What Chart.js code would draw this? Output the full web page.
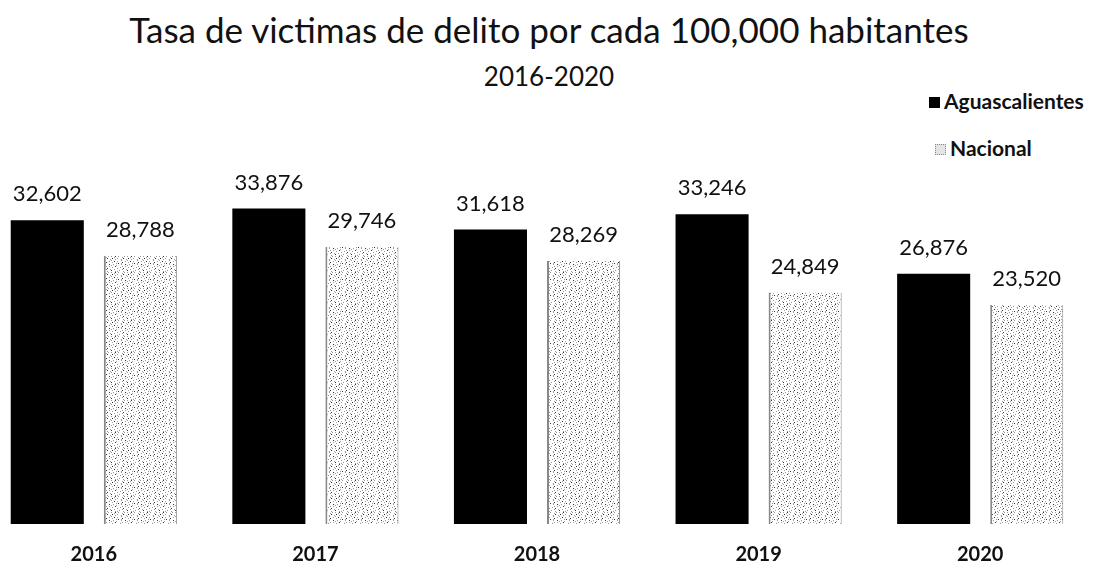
<!DOCTYPE html>
<html>
<head>
<meta charset="utf-8">
<script src="https://cdn.jsdelivr.net/npm/chart.js@4.4.0/dist/chart.umd.min.js"></script>
<style>
  html, body { margin:0; padding:0; background:#fff; width:1098px; height:565px; overflow:hidden; position:relative; font-family: Lato, "Open Sans", sans-serif; }
  #wrap { position:absolute; left:-17px; top:0; width:1122px; height:565px; }
  #title { position:absolute; left:0; width:1098px; top:9px; text-align:center; font-size:35px; color:#111; line-height:40px; }
  #sub { position:absolute; left:0; width:1098px; top:61px; text-align:center; font-size:26px; color:#111; line-height:30px; }
  .leg { position:absolute; font-weight:bold; font-size:21px; color:#111; line-height:24px; }
  .box { display:inline-block; width:11px; height:11px; margin-right:4px; vertical-align:1px; }
</style>
</head>
<body>
<div id="title">Tasa de victimas de delito por cada 100,000 habitantes</div>
<div id="sub">2016-2020</div>
<div class="leg" style="left:929px; top:89px;"><span class="box" style="background:#000"></span>Aguascalientes</div>
<div class="leg" style="left:935px; top:136px;"><span class="box" style="width:9px;height:9px;border:1px dotted #888;background:#e4e4e4"></span>Nacional</div>
<div id="wrap"><canvas id="c"></canvas></div>
<script>
const categories = ["2016", "2017", "2018", "2019", "2020"];
const aguascalientes = [32602, 33876, 31618, 33246, 26876];
const nacional = [28788, 29746, 28269, 24849, 23520];

const ctx = document.getElementById('c').getContext('2d');
const pattern = ctx.createPattern((function(){
  const rows = [
    "g...k..g.....g..",
    "...g.......g....",
    ".k....g.....k...",
    "....g.....g....g",
    "g.........g.....",
    "...k..g.......g.",
    ".g.........k....",
    ".....g.k..g.....",
    "..g.......g...k.",
    "g....g..........",
    "....k......g..g.",
    ".g.......g......",
    "......g.....k...",
    "...g.......g...g",
    "k.......g.......",
    "....g.g.....g..."
  ];
  const pc = document.createElement('canvas');
  pc.width = 16; pc.height = 16;
  const p = pc.getContext('2d');
  p.fillStyle = '#fff'; p.fillRect(0,0,16,16);
  rows.forEach((r, y) => {
    for (let x = 0; x < 16; x++) {
      if (r[x] === 'g') { p.fillStyle = '#999'; p.fillRect(x,y,1,1); }
      if (r[x] === 'k') { p.fillStyle = '#333'; p.fillRect(x,y,1,1); }
    }
  });
  return pc;
})(), 'repeat');

const valueLabels = {
  id: 'valueLabels',
  afterDatasetsDraw(chart) {
    const c = chart.ctx;
    c.save();
    c.font = '22px Lato, "Open Sans", sans-serif';
    c.fillStyle = '#111';
    c.textAlign = 'center';
    c.textBaseline = 'bottom';
    chart.data.datasets.forEach((ds, di) => {
      const meta = chart.getDatasetMeta(di);
      meta.data.forEach((el, i) => {
        c.fillText(ds.data[i].toLocaleString('en-US'), el.x, el.y - 15);
      });
    });
    c.restore();
  }
};

new Chart(ctx, {
  type: 'bar',
  data: {
    labels: categories,
    datasets: [
      { label: 'Aguascalientes', data: aguascalientes, backgroundColor: '#000', borderWidth: 0 },
      { label: 'Nacional', data: nacional, backgroundColor: pattern,
        borderColor: '#888', borderWidth: { left: 2, right: 1, top: 0, bottom: 0 }, borderSkipped: false }
    ]
  },
  options: {
    responsive: true,
    maintainAspectRatio: false,
    animation: false,
    layout: { padding: { top: 198, left: 0, right: 14, bottom: 0 } },
    datasets: { bar: { categoryPercentage: 0.84, barPercentage: 0.785 } },
    plugins: { legend: { display: false }, tooltip: { enabled: false }, title: { display: false } },
    scales: {
      y: { display: false, min: 0, max: 35000 },
      x: {
        grid: { display: false, drawTicks: false },
        border: { display: false },
        ticks: { color: '#111', font: { family: 'Lato, "Open Sans", sans-serif', size: 20, weight: 'bold' }, padding: 19 },
        afterFit(scale) { scale.height = 41; }
      }
    }
  },
  plugins: [valueLabels]
});
</script>
</body>
</html>
